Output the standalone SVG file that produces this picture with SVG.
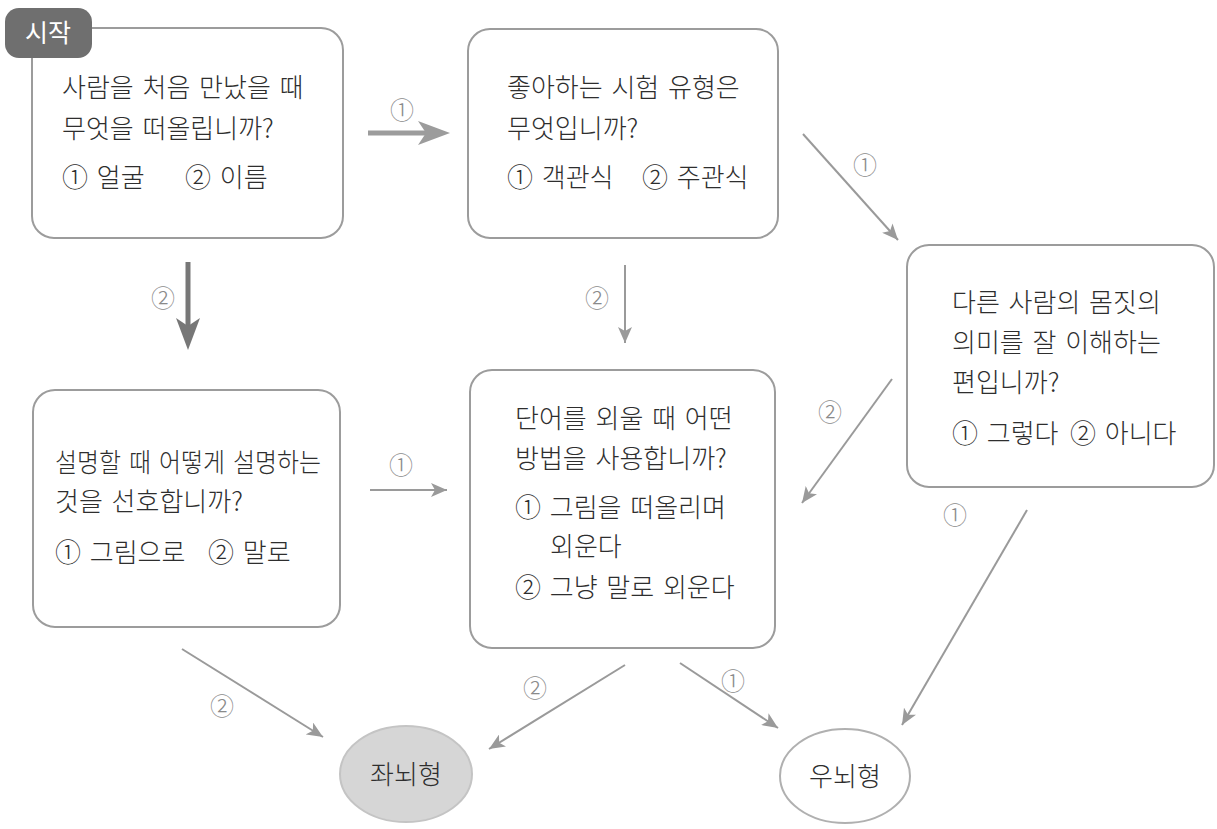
<svg xmlns="http://www.w3.org/2000/svg" width="1217" height="829" viewBox="0 0 1217 829">
<style>
.box{fill:#fff;stroke:#9c9c9c;stroke-width:2}
.t{font-family:"Noto Sans CJK KR","Noto Sans",sans-serif;font-size:26px;font-weight:300;fill:#2e2e2e;word-spacing:3px}
.lbl{font-family:"Noto Sans CJK KR","Noto Sans",sans-serif;font-size:24px;font-weight:300;fill:#8a8a8a;text-anchor:middle}
.thin{stroke:#9a9a9a;stroke-width:2;fill:none}
.thick{stroke:#9c9c9c;stroke-width:5;fill:none}
</style>
<defs>
<marker id="ah" markerUnits="userSpaceOnUse" markerWidth="18" markerHeight="14" refX="16" refY="7" orient="auto">
<path d="M0,0 L16,7 L0,14 L4,7 z" fill="#9a9a9a"/>
</marker>
<marker id="ahT" markerUnits="userSpaceOnUse" markerWidth="34" markerHeight="26" refX="10" refY="12" orient="auto">
<path d="M0,0 L32,12 L0,24 L8,12 z" fill="#9c9c9c"/>
</marker>
<marker id="ahT2" markerUnits="userSpaceOnUse" markerWidth="34" markerHeight="26" refX="10" refY="12" orient="auto">
<path d="M0,0 L32,12 L0,24 L8,12 z" fill="#777"/>
</marker>
</defs>
<rect width="1217" height="829" fill="#fff"/>

<g id="connectors">
<line class="thick" x1="368" y1="133" x2="428" y2="133" marker-end="url(#ahT)"/>
<line class="thick" x1="188" y1="262" x2="188" y2="328" marker-end="url(#ahT2)" style="stroke:#777"/>
<line class="thin" x1="803" y1="134" x2="898" y2="240" marker-end="url(#ah)"/>
<line class="thin" x1="625" y1="265" x2="625" y2="343" marker-end="url(#ah)"/>
<line class="thin" x1="892" y1="379" x2="802" y2="503" marker-end="url(#ah)"/>
<line class="thin" x1="370" y1="490" x2="447" y2="490" marker-end="url(#ah)"/>
<line class="thin" x1="182" y1="649" x2="323" y2="737" marker-end="url(#ah)"/>
<line class="thin" x1="625" y1="665" x2="489" y2="749" marker-end="url(#ah)"/>
<line class="thin" x1="680" y1="663" x2="778" y2="728" marker-end="url(#ah)"/>
<line class="thin" x1="1027" y1="510" x2="902" y2="725" marker-end="url(#ah)"/>
<text class="lbl" x="402" y="119">①</text>
<text class="lbl" x="163" y="307">②</text>
<text class="lbl" x="865" y="174">①</text>
<text class="lbl" x="597" y="307">②</text>
<text class="lbl" x="830" y="421">②</text>
<text class="lbl" x="401" y="474">①</text>
<text class="lbl" x="222" y="715">②</text>
<text class="lbl" x="535" y="697">②</text>
<text class="lbl" x="733" y="690">①</text>
<text class="lbl" x="955" y="524">①</text>
</g>

<g id="node-q1">
<rect class="box" x="32" y="28" width="311" height="210" rx="22"/>
<text class="t" x="62" y="97">사람을 처음 만났을 때</text>
<text class="t" x="62" y="138">무엇을 떠올립니까?</text>
<text class="t" x="62" y="187">① 얼굴</text>
<text class="t" x="185" y="187">② 이름</text>
</g>

<g id="node-start">
<rect x="5" y="8" width="87" height="50" rx="14" fill="#6f6f6f"/>
<text x="48" y="42" font-family="'Noto Sans CJK KR','Noto Sans',sans-serif" font-size="25" fill="#fff" text-anchor="middle">시작</text>
</g>

<g id="node-q2">
<rect class="box" x="468" y="29" width="310" height="209" rx="22"/>
<text class="t" x="507" y="97">좋아하는 시험 유형은</text>
<text class="t" x="507" y="138">무엇입니까?</text>
<text class="t" x="507" y="187">① 객관식</text>
<text class="t" x="642" y="187">② 주관식</text>
</g>

<g id="node-q3">
<rect class="box" x="907" y="245" width="307" height="242" rx="22"/>
<text class="t" x="952" y="312">다른 사람의 몸짓의</text>
<text class="t" x="952" y="352">의미를 잘 이해하는</text>
<text class="t" x="952" y="392">편입니까?</text>
<text class="t" x="952" y="443">① 그렇다</text>
<text class="t" x="1070" y="443">② 아니다</text>
</g>

<g id="node-q4">
<rect class="box" x="33" y="390" width="307" height="237" rx="22"/>
<text class="t" x="55" y="472" textLength="266" lengthAdjust="spacingAndGlyphs">설명할 때 어떻게 설명하는</text>
<text class="t" x="55" y="511">것을 선호합니까?</text>
<text class="t" x="55" y="562">① 그림으로</text>
<text class="t" x="208" y="562">② 말로</text>
</g>

<g id="node-q5">
<rect class="box" x="470" y="370" width="305" height="278" rx="22"/>
<text class="t" x="515" y="428">단어를 외울 때 어떤</text>
<text class="t" x="515" y="468">방법을 사용합니까?</text>
<text class="t" x="515" y="517">① 그림을 떠올리며</text>
<text class="t" x="550" y="556">외운다</text>
<text class="t" x="515" y="597">② 그냥 말로 외운다</text>
</g>

<g id="node-left">
<ellipse cx="406" cy="774" rx="66" ry="48" fill="#d6d6d6" stroke="#c4c4c4" stroke-width="2"/>
<text class="t" x="406" y="784" text-anchor="middle">좌뇌형</text>
</g>

<g id="node-right">
<ellipse cx="845" cy="776" rx="65" ry="47" fill="#fff" stroke="#b0b0b0" stroke-width="2"/>
<text class="t" x="845" y="786" text-anchor="middle">우뇌형</text>
</g>
</svg>
